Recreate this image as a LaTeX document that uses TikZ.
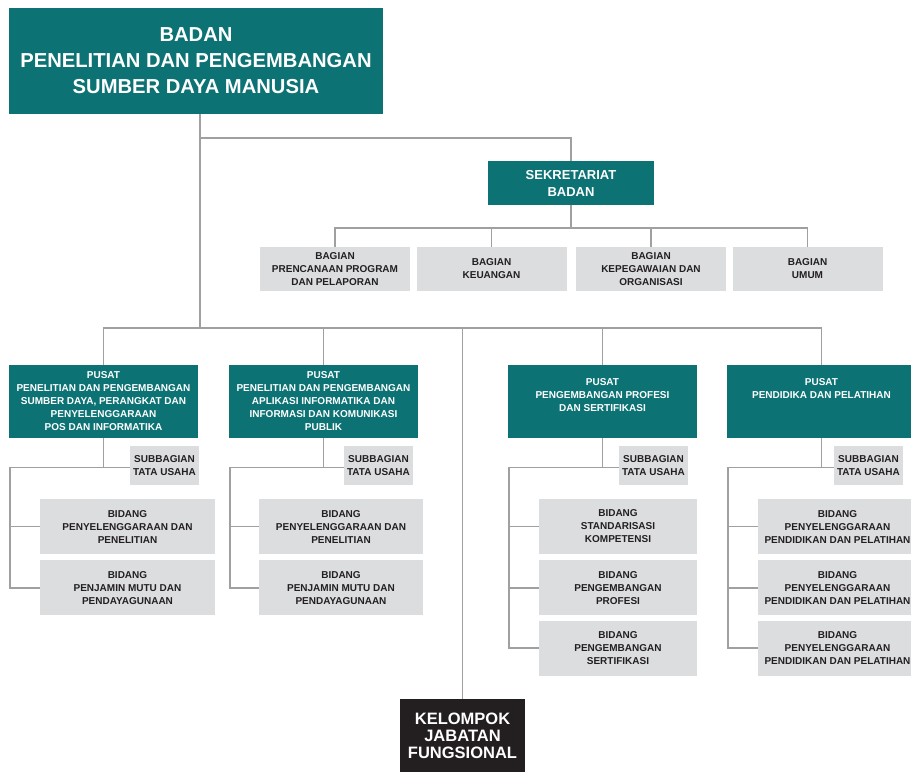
\documentclass[tikz,border=0pt]{standalone}
\usepackage{fontspec}
\setmainfont{Liberation Sans}
\usetikzlibrary{positioning}
\definecolor{hteal}{HTML}{0C7274}
\definecolor{ugray}{HTML}{DCDDDF}
\definecolor{lgray}{HTML}{A0A0A0}
\definecolor{ink}{HTML}{231F20}
\begin{document}
\begin{tikzpicture}[x=1pt,y=-1pt,node distance=6pt,
  every node/.style={inner sep=0pt,align=center,font=\bfseries\fontsize{10}{13}\selectfont},
  head/.style={fill=hteal,text=white},
  unit/.style={fill=ugray,text=ink},
  pusat/.style={head,minimum width=189,minimum height=73},
  bagian/.style={unit,minimum width=150,minimum height=44},
  subbag/.style={unit,minimum width=69,minimum height=39},
  link/.style={draw=lgray,line width=1.8pt}]
\useasboundingbox (0,0) rectangle (911,772);
\clip (0,0) rectangle (911,772);
% pimpinan
\node[head,minimum width=374,minimum height=106,font=\bfseries\fontsize{20.2}{26}\selectfont] (badan) at (196,61) {BADAN\\PENELITIAN DAN PENGEMBANGAN\\SUMBER DAYA MANUSIA};
\node[head,minimum width=166,minimum height=44,font=\bfseries\fontsize{13}{17}\selectfont] (sekr) at (571,183) {SEKRETARIAT\\BADAN};
\node[bagian] (bag1) at (335,269) {BAGIAN\\PRENCANAAN PROGRAM\\DAN PELAPORAN};
\node[bagian] (bag2) at (491.5,269) {BAGIAN\\KEUANGAN};
\node[bagian] (bag3) at (651,269) {BAGIAN\\KEPEGAWAIAN DAN\\ORGANISASI};
\node[bagian] (bag4) at (807.5,269) {BAGIAN\\UMUM};
% pusat
\node[pusat] (pus1) at (103.5,401.5) {PUSAT\\PENELITIAN DAN PENGEMBANGAN\\SUMBER DAYA, PERANGKAT DAN\\PENYELENGGARAAN\\POS DAN INFORMATIKA};
\node[pusat] (pus2) at (323.5,401.5) {PUSAT\\PENELITIAN DAN PENGEMBANGAN\\APLIKASI INFORMATIKA DAN\\INFORMASI DAN KOMUNIKASI\\PUBLIK};
\node[pusat] (pus3) at (602.5,401.5) {PUSAT\\PENGEMBANGAN PROFESI\\DAN SERTIFIKASI\\\mbox{}};
\node[pusat] (pus4) at (821.5,401.5) {PUSAT\\PENDIDIKA DAN PELATIHAN\\\mbox{}\\\mbox{}};
\node[subbag] (sub1) at (164.5,465.5) {SUBBAGIAN\\TATA USAHA};
\node[subbag] (sub2) at (378.5,465.5) {SUBBAGIAN\\TATA USAHA};
\node[subbag] (sub3) at (653.5,465.5) {SUBBAGIAN\\TATA USAHA};
\node[subbag] (sub4) at (868.5,465.5) {SUBBAGIAN\\TATA USAHA};
% bidang
\node[unit,minimum width=175,minimum height=55] (bid11) at (127.5,526.5) {BIDANG\\PENYELENGGARAAN DAN\\PENELITIAN};
\node[unit,minimum width=175,minimum height=55,below=of bid11] (bid12) {BIDANG\\PENJAMIN MUTU DAN\\PENDAYAGUNAAN};
\node[unit,minimum width=164,minimum height=55] (bid21) at (341,526.5) {BIDANG\\PENYELENGGARAAN DAN\\PENELITIAN};
\node[unit,minimum width=164,minimum height=55,below=of bid21] (bid22) {BIDANG\\PENJAMIN MUTU DAN\\PENDAYAGUNAAN};
\node[unit,minimum width=158,minimum height=55] (bid31) at (618,526.5) {BIDANG\\STANDARISASI\\KOMPETENSI};
\node[unit,minimum width=158,minimum height=55,below=of bid31] (bid32) {BIDANG\\PENGEMBANGAN\\PROFESI};
\node[unit,minimum width=158,minimum height=55,below=5pt of bid32] (bid33) {BIDANG\\PENGEMBANGAN\\SERTIFIKASI};
\node[unit,minimum width=159,minimum height=55] (bid41) at (837.5,526.5) {BIDANG\\PENYELENGGARAAN\\PENDIDIKAN DAN PELATIHAN};
\node[unit,minimum width=159,minimum height=55,below=of bid41] (bid42) {BIDANG\\PENYELENGGARAAN\\PENDIDIKAN DAN PELATIHAN};
\node[unit,minimum width=159,minimum height=55,below=5pt of bid42] (bid43) {BIDANG\\PENYELENGGARAAN\\PENDIDIKAN DAN PELATIHAN};
\node[fill=ink,text=white,minimum width=125,minimum height=73,font=\bfseries\fontsize{16.5}{17}\selectfont] (kjf) at (462.5,735.5) {KELOMPOK\\JABATAN\\FUNGSIONAL};
% garis
\coordinate (jsek) at (200,138);
\coordinate (jbag) at (571,228);
\coordinate (jpus) at (200,328);
\draw[link] (badan.south -| jpus) -- (jpus);
\draw[link] (jsek) -| (sekr.north);
\draw[link] (sekr.south) -- (jbag);
\foreach \b in {bag1,bag2,bag3,bag4} \draw[link] (\b.north) |- (jbag);
\foreach \p in {pus1,pus2,pus3,pus4,kjf} \draw[link] (\p.north) |- (jpus);
\foreach \p/\s/\last in {pus1/sub1/bid12,pus2/sub2/bid22,pus3/sub3/bid33,pus4/sub4/bid43} {
  \draw[link] (\p.south) |- ([yshift=-2pt]\s.west);
  \draw[link] ([yshift=-2pt]\s.west) -| ([xshift=1pt]\p.south west |- \last.west) -- (\last.west);
}
\foreach \p/\b in {pus1/bid11,pus2/bid21,pus3/bid31,pus3/bid32,pus4/bid41,pus4/bid42}
  \draw[link] ([xshift=1pt]\p.south west |- \b.west) -- (\b.west);
\end{tikzpicture}
\end{document}
